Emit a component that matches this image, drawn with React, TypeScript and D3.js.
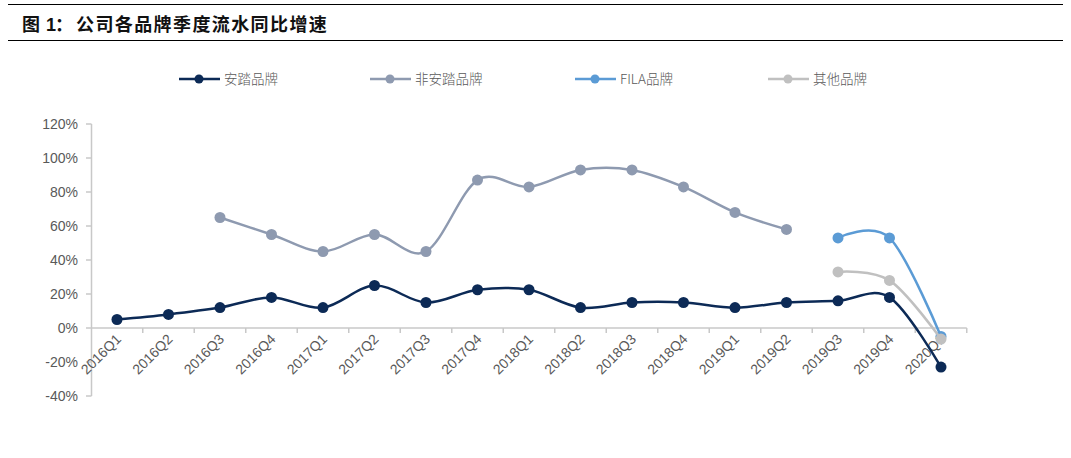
import React from "react";
import * as d3 from "d3";

const categories = [
  "2016Q1", "2016Q2", "2016Q3", "2016Q4",
  "2017Q1", "2017Q2", "2017Q3", "2017Q4",
  "2018Q1", "2018Q2", "2018Q3", "2018Q4",
  "2019Q1", "2019Q2", "2019Q3", "2019Q4",
  "2020Q1",
];

const antaValues: (number | null)[] = [5, 8, 12, 18, 12, 25, 15, 22.5, 22.5, 12, 15, 15, 12, 15, 16, 18, -23];
const nonAntaValues: (number | null)[] = [null, null, 65, 55, 45, 55, 45, 87, 83, 93, 93, 83, 68, 58, null, null, null];
const filaValues: (number | null)[] = [null, null, null, null, null, null, null, null, null, null, null, null, null, null, 53, 53, -5];
const otherValues: (number | null)[] = [null, null, null, null, null, null, null, null, null, null, null, null, null, null, 33, 28, -6.5];

const yTicks = [-40, -20, 0, 20, 40, 60, 80, 100, 120];

const seriesNames = ["安踏品牌", "非安踏品牌", "FILA品牌", "其他品牌"];
const seriesColors = ["#0c2a56", "#8e9ab0", "#5b9bd5", "#c0c0c0"];
const seriesData = [antaValues, nonAntaValues, filaValues, otherValues];

const W = 1071;
const H = 458;

export default function App() {
  const x = d3.scaleBand<string>().domain(categories).range([91.25, 966.75]).padding(0);
  const y = d3.scaleLinear().domain([-40, 120]).range([396, 124]);
  const bw = x.bandwidth();
  const cx = (c: string) => (x(c) as number) + bw / 2;

  const line = d3
    .line<[string, number | null]>()
    .defined((d) => d[1] !== null)
    .x((d) => cx(d[0]))
    .y((d) => y(d[1] as number))
    .curve(d3.curveCatmullRom.alpha(0));

  const axisColor = "#c8c8c8";
  const textColor = "#595959";
  const legendX = [179, 370, 575, 768];
  const legendY = 79;
  const latin = "'Liberation Sans', Arial, sans-serif";

  return (
    <svg
      width={W}
      height={H}
      style={{ position: "absolute", left: 0, top: 0, background: "#fff" }}
      fontFamily={latin}
    >
      <rect x={0} y={0} width={W} height={H} fill="#fff" />
      {/* title rules */}
      <line x1={8} x2={1063} y1={4.5} y2={4.5} stroke="#000" strokeWidth={1} />
      <line x1={8} x2={1063} y1={40.5} y2={40.5} stroke="#000" strokeWidth={1} />
      <text y={31} fontWeight="bold" fontSize={18} fill="#111" fontFamily="'Noto Sans CJK SC', sans-serif">
        <tspan x={22}>图</tspan>
        <tspan x={46} fontFamily={latin}>1</tspan>
        <tspan x={55}>：</tspan>
        <tspan x={76} letterSpacing={1.4}>公司各品牌季度流水同比增速</tspan>
      </text>

      {/* legend */}
      {seriesNames.map((n, i) => (
        <g key={n}>
          <line x1={legendX[i]} x2={legendX[i] + 41} y1={legendY} y2={legendY} stroke={seriesColors[i]} strokeWidth={2.5} />
          <circle cx={legendX[i] + 20} cy={legendY} r={4.5} fill={seriesColors[i]} />
          <text
            x={legendX[i] + 45}
            y={legendY + 5}
            fontSize={13.5}
            fill={textColor}
            fontFamily="'Noto Sans CJK SC', sans-serif"
            fontWeight={300}
          >
            {n}
          </text>
        </g>
      ))}

      {/* y axis */}
      <line x1={91.5} x2={91.5} y1={y(120)} y2={y(-40)} stroke={axisColor} strokeWidth={1.5} />
      {yTicks.map((t) => (
        <g key={t}>
          <line x1={86} x2={91.5} y1={y(t)} y2={y(t)} stroke={axisColor} strokeWidth={1.5} />
          <text x={78} y={y(t) + 5} textAnchor="end" fontSize={14} fill={textColor}>
            {t}%
          </text>
        </g>
      ))}

      {/* x axis at 0 */}
      <line x1={91.5} x2={966.75} y1={y(0)} y2={y(0)} stroke={axisColor} strokeWidth={1.5} />
      {categories.map((c) => (
        <line key={"t" + c} x1={(x(c) as number) + bw} x2={(x(c) as number) + bw} y1={y(0)} y2={y(0) + 5} stroke={axisColor} strokeWidth={1.5} />
      ))}
      {categories.map((c) => (
        <text
          key={"l" + c}
          transform={`translate(${cx(c) + 5},${y(0) + 12}) rotate(-45)`}
          textAnchor="end"
          fontSize={14}
          fill={textColor}
        >
          {c}
        </text>
      ))}

      {/* series */}
      {seriesData.map((vals, i) => {
        const pts = categories.map((c, j) => [c, vals[j]] as [string, number | null]);
        return (
          <g key={"s" + i}>
            <path d={line(pts) || ""} fill="none" stroke={seriesColors[i]} strokeWidth={2.5} />
            {pts
              .filter((p) => p[1] !== null)
              .map((p) => (
                <circle key={p[0]} cx={cx(p[0])} cy={y(p[1] as number)} r={5.5} fill={seriesColors[i]} />
              ))}
          </g>
        );
      })}
    </svg>
  );
}
